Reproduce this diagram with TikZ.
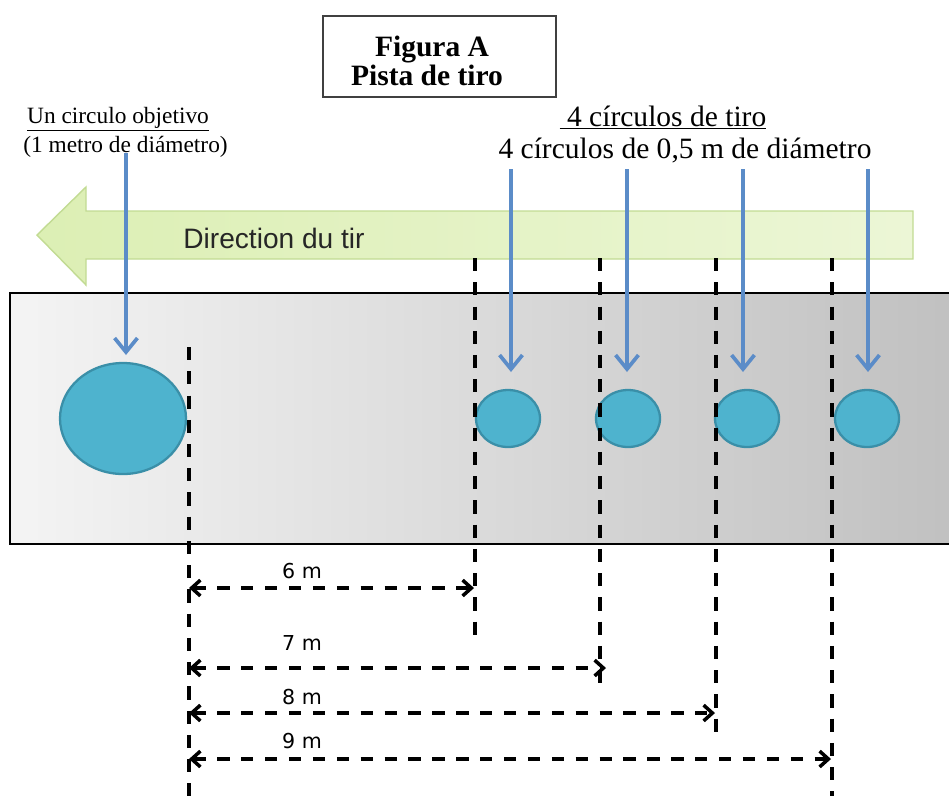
\documentclass[tikz,border=0pt]{standalone}
\usepackage{fontspec}
\setmainfont{Liberation Serif}
\newfontfamily\arialfont{Liberation Sans}
\newfontfamily\dimfont{DejaVu Sans}
\usepackage{xcolor}
\usepackage{tikz}
\usetikzlibrary{arrows.meta,positioning}

\definecolor{targetfill}{HTML}{4EB3CE}
\definecolor{targetline}{HTML}{3A8FA8}
\definecolor{shotblue}{HTML}{5B8CC8}
\definecolor{lanelight}{HTML}{F4F4F4}
\definecolor{lanedark}{HTML}{C0C0C0}
\definecolor{greenleft}{HTML}{DCEFB4}
\definecolor{greenright}{HTML}{ECF6D6}
\definecolor{greenborder}{HTML}{C2DB93}

\tikzset{
    target/.style={fill=targetfill, draw=targetline, line width=1.3pt},
    shot/.style={draw=shotblue, line width=2.1pt, -{Straight Barb[length=8pt,width=13pt]}},
    guide/.style={line width=1.9pt, dash pattern=on 7.5pt off 6.3pt},
    dimarrow/.style={line width=2pt, dash pattern=on 7pt off 6.6pt,
        {Straight Barb[length=5pt,width=9pt]}-{Straight Barb[length=5pt,width=9pt]}},
    dimlabel/.style={anchor=base, inner sep=0pt, font=\dimfont\fontsize{11.7}{14}\selectfont},
    titletext/.style={anchor=base, inner sep=0pt, font=\bfseries\fontsize{16.8}{18}\selectfont},
    smalllabel/.style={anchor=base, inner sep=0pt, font=\fontsize{13.3}{16}\selectfont},
    biglabel/.style={anchor=base, inner sep=0pt, font=\fontsize{16.8}{20}\selectfont},
}

\begin{document}
\begin{tikzpicture}[x=0.02cm, y=-0.02cm]
    \useasboundingbox (0,0) rectangle (949,796);

    % Shooting lane
    \shadedraw[left color=lanelight, right color=lanedark, draw=black, line width=1.1pt]
        (10,293) rectangle (962,544);

    % Direction arrow
    \shadedraw[left color=greenleft, right color=greenright, draw=greenborder, line width=0.8pt]
        (37,235) -- (86,187) -- (86,211) -- (913,211) -- (913,259) -- (86,259) -- (86,285) -- cycle;
    \node[anchor=base, inner sep=0pt, text=black!85, font=\arialfont\fontsize{16}{19}\selectfont]
        (dir) at (274,248) {Direction du tir};

    % Title box
    \draw[line width=0.8pt, black!75] (323,16) rectangle (556,97);
    \node[titletext] (figA) at (432,56) {Figura A};
    \node[titletext] (pista) at (427,85) {Pista de tiro};

    % Labels
    \node[smalllabel] (obj) at (118,123) {\underline{Un circulo objetivo}};
    \node[smalllabel] (objd) at (125.5,152) {(1 metro de diámetro)};
    \node[biglabel] (tiro) at (663,126) {\underline{\ 4 círculos de tiro}};
    \node[biglabel] (tirod) at (685,158) {4 círculos de 0,5 m de diámetro};

    % Circles
    \draw[target] (123,418.5) ellipse (63 and 55.5);
    \foreach \x in {508,628,747,867}
        \draw[target] (\x,418.5) ellipse (32 and 28.5);

    % Guide lines
    \coordinate (g0a) at (189,347);
    \coordinate (g0b) at (189,796);
    \draw[guide] (g0a) -- (g0b);
    \foreach \d/\x/\y in {6/475/642, 7/600/685, 8/716/732, 9/832/796} {
        \coordinate (g\d a) at (\x,258);
        \coordinate (g\d b) at (\x,\y);
        \draw[guide] (g\d a) -- (g\d b);
    }

    % Shot arrows
    \coordinate (s0) at (126,153);
    \coordinate (t0) at (126,355);
    \foreach \i/\x in {1/511, 2/627, 3/743, 4/868} {
        \coordinate (s\i) at (\x,169);
        \coordinate (t\i) at (\x,372);
    }
    \foreach \i in {0,...,4}
        \draw[shot] (s\i) -- (t\i);

    % Distances
    \foreach \d/\y/\e/\b in {6/588/474/578, 7/668/606/650, 8/713/715/704, 9/759/831/748} {
        \coordinate (dl\d) at (189,\y);
        \coordinate (dr\d) at (\e,\y);
        \draw[dimarrow] (dl\d) -- (dr\d);
        \node[dimlabel] (m\d) at (302,\b) {\d~m};
    }
\end{tikzpicture}
\end{document}
